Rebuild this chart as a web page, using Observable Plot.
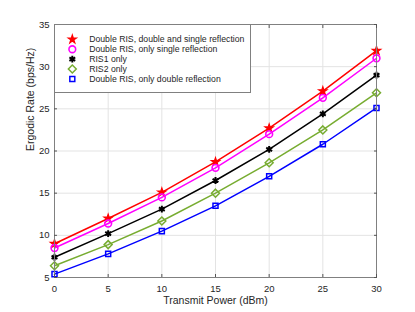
<!DOCTYPE html>
<html>
<head>
<meta charset="utf-8">
<script src="https://cdn.jsdelivr.net/npm/d3@7"></script>
<script src="https://cdn.jsdelivr.net/npm/@observablehq/plot@0.6"></script>
<style>
  html, body { margin: 0; padding: 0; background: #fff; }
  #wrap { position: relative; width: 415px; height: 312px; font-family: "Liberation Sans", Arial, sans-serif; }
  #legend { position: absolute; left: 54px; top: 24px; width: 197px; height: 69px; box-sizing: border-box; border: 1px solid #808080; background: #fff; }
  #legend svg { position: absolute; left: -1px; top: -1px; }
</style>
</head>
<body>
<div id="wrap"><div id="legend"></div></div>
<script>
const power = [0, 5, 10, 15, 20, 25, 30];
const xTicks = [0, 5, 10, 15, 20, 25, 30];
const yTicks = [5, 10, 15, 20, 25, 30, 35];

const seriesNames = [
  "Double RIS, double and single reflection",
  "Double RIS, only single reflection",
  "RIS1 only",
  "RIS2 only",
  "Double RIS, only double reflection"
];
const bothReflection = [9.0, 12.0, 15.1, 18.7, 22.7, 27.1, 31.9];
const singleReflection = [8.5, 11.4, 14.5, 18.0, 22.0, 26.3, 31.0];
const ris1Only = [7.4, 10.2, 13.1, 16.5, 20.2, 24.4, 29.0];
const ris2Only = [6.4, 8.9, 11.7, 15.0, 18.6, 22.5, 26.9];
const doubleReflection = [5.4, 7.8, 10.5, 13.5, 17.0, 20.8, 25.1];

const values = [bothReflection, singleReflection, ris1Only, ris2Only, doubleReflection];
const colors = ["#ff0000", "#ff00ff", "#000000", "#77ac30", "#0000ff"];
const symbols = ["star", "circle", "asterisk", "diamond2", "square2"];
const radii = [2.6, 3.4, 3.2, 3.6, 3.2];
const fills = ["#ff0000", "none", "none", "none", "none"];
const strokeWidths = [1.2, 1.6, 2.0, 1.5, 1.5];

const rows = [];
seriesNames.forEach((name, i) => power.forEach((p, j) => rows.push({name, x: p, y: values[i][j]})));

const font = "Liberation Sans, Arial, sans-serif";
const marks = [
  Plot.gridX(xTicks, {stroke: "#e3e3e3", strokeOpacity: 1, strokeWidth: 1}),
  Plot.gridY(yTicks, {stroke: "#e3e3e3", strokeOpacity: 1, strokeWidth: 1})
];
seriesNames.forEach((name, i) => {
  const data = rows.filter(d => d.name === name);
  marks.push(Plot.line(data, {x: "x", y: "y", stroke: colors[i], strokeWidth: 1.5}));
  marks.push(Plot.dot(data, {x: "x", y: "y", symbol: symbols[i], r: radii[i], stroke: colors[i], fill: fills[i], strokeWidth: strokeWidths[i]}));
});
marks.push(
  Plot.frame({stroke: "#808080", strokeWidth: 1}),
  Plot.axisX(xTicks, {anchor: "bottom", tickSize: -3, tickFormat: () => "", stroke: "#555", label: null}),
  Plot.axisX(xTicks, {anchor: "top", tickSize: -3, tickFormat: () => "", stroke: "#555", label: null}),
  Plot.axisY(yTicks, {anchor: "left", tickSize: -3, tickFormat: () => "", stroke: "#555", label: null}),
  Plot.axisY(yTicks, {anchor: "right", tickSize: -3, tickFormat: () => "", stroke: "#555", label: null}),
  Plot.axisX(xTicks, {anchor: "bottom", tickSize: 0, tickPadding: 8, fontSize: 9.5, fill: "#262626", label: null}),
  Plot.axisY(yTicks, {anchor: "left", tickSize: 0, tickPadding: 5, fontSize: 9.5, fill: "#262626", label: null}),
  Plot.text(["Transmit Power (dBm)"], {frameAnchor: "bottom", dy: 26, fontSize: 10.5, fill: "#262626"}),
  Plot.text(["Ergodic Rate (bps/Hz)"], {frameAnchor: "left", dx: -24, rotate: -90, fontSize: 10.5, fill: "#262626"})
);

const chart = Plot.plot({
  width: 415, height: 312,
  marginLeft: 54, marginRight: 39, marginTop: 24, marginBottom: 35,
  style: {fontFamily: font, background: "white", overflow: "visible"},
  x: {domain: [0, 30], axis: null, label: null},
  y: {domain: [5, 35], axis: null, label: null},
  marks
});
document.getElementById("wrap").insertBefore(chart, document.getElementById("legend"));

// legend
const legendRows = seriesNames.map((name, i) => ({name, i}));
const legendMarks = [];
legendRows.forEach(d => {
  legendMarks.push(Plot.dot([d], {y: "name", frameAnchor: "left", dx: 18, symbol: symbols[d.i], r: radii[d.i], stroke: colors[d.i], fill: fills[d.i], strokeWidth: strokeWidths[d.i]}));
});
legendMarks.push(Plot.text(legendRows, {y: "name", text: "name", frameAnchor: "left", dx: 35, textAnchor: "start", fontSize: 8.8, fill: "#262626"}));
const legend = Plot.plot({
  width: 197, height: 69,
  marginLeft: 0, marginRight: 0, marginTop: 8, marginBottom: 7.5,
  style: {fontFamily: font, background: "transparent", overflow: "visible"},
  y: {type: "point", domain: seriesNames, axis: null},
  x: {axis: null},
  marks: legendMarks
});
document.getElementById("legend").appendChild(legend);
</script>
</body>
</html>
